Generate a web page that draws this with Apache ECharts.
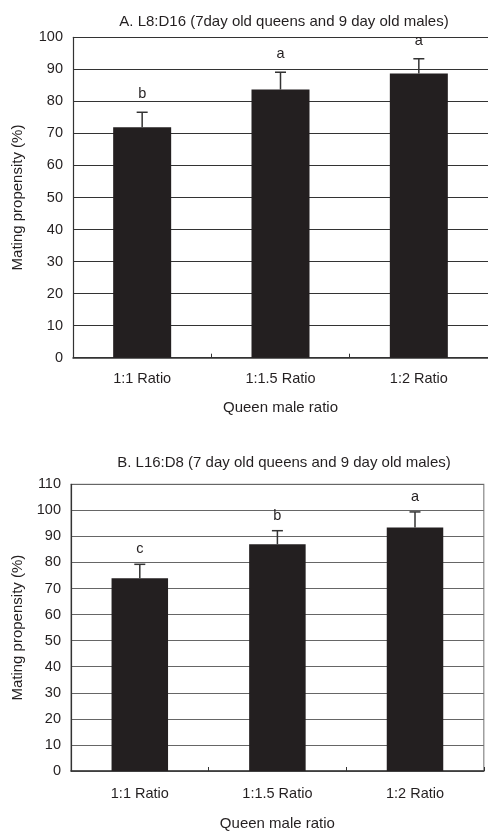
<!DOCTYPE html>
<html>
<head>
<meta charset="utf-8">
<script src="https://cdn.jsdelivr.net/npm/echarts@6/dist/echarts.min.js"></script>
<style>
html,body{margin:0;padding:0;background:#fff;}
#c{width:488px;height:832px;}
</style>
</head>
<body>
<div id="c"></div>
<script>
var categories = ['1:1 Ratio', '1:1.5 Ratio', '1:2 Ratio'];
var meansA = [71.9, 83.7, 88.7];
var errA = [4.7, 5.4, 4.6];
var lettersA = ['b', 'a', 'a'];
var meansB = [74.0, 87.0, 93.4];
var errB = [5.3, 5.2, 6.0];
var lettersB = ['c', 'b', 'a'];
var yTicksA = {min: 0, max: 100, interval: 10};
var yTicksB = {min: 0, max: 110, interval: 10};

var FONT = "'Liberation Sans', Arial, sans-serif";
var INK = '#231f20';
var FS = 14.5;

function errSeries(gridIdx, means, errs, letters, letterOff) {
  return {
    type: 'custom',
    xAxisIndex: gridIdx,
    yAxisIndex: gridIdx,
    z: 5,
    data: means.map(function (m, i) { return [i, m, m + errs[i]]; }),
    renderItem: function (params, api) {
      var x = api.value(0);
      var base = api.coord([x, api.value(1)]);
      var top = api.coord([x, api.value(2)]);
      var letter = letters[params.dataIndex];
      return {
        type: 'group',
        children: [
          {type: 'line', shape: {x1: base[0], y1: base[1], x2: top[0], y2: top[1]},
            style: {stroke: '#333', lineWidth: 1.5}},
          {type: 'line', shape: {x1: top[0] - 5.5, y1: top[1], x2: top[0] + 5.5, y2: top[1]},
            style: {stroke: '#333', lineWidth: 1.5}},
          {type: 'text', style: {text: letter, x: top[0], y: top[1] - letterOff,
            align: 'center', verticalAlign: 'middle', fontSize: FS, fontFamily: FONT, fill: INK}}
        ]
      };
    }
  };
}

function xAxisCfg(gridIdx, margin, nameGap) {
  return {
    type: 'category', gridIndex: gridIdx, data: categories,
    axisLine: {lineStyle: {color: '#333', width: 1.5}},
    axisTick: {show: true, inside: true, length: 4, lineStyle: {color: '#333'}},
    axisLabel: {fontSize: FS, fontFamily: FONT, color: INK, margin: margin},
    name: 'Queen male ratio', nameLocation: 'middle', nameGap: nameGap,
    nameTextStyle: {fontSize: 15, fontFamily: FONT, color: INK}
  };
}
function yAxisCfg(gridIdx, ticks, gridColor, nameGap) {
  return {
    type: 'value', gridIndex: gridIdx, min: ticks.min, max: ticks.max, interval: ticks.interval,
    axisLine: {show: true, lineStyle: {color: '#333', width: 1.2}},
    axisTick: {show: false},
    splitLine: {show: true, lineStyle: {color: gridColor, width: 1}},
    axisLabel: {fontSize: FS, fontFamily: FONT, color: INK, margin: 10},
    name: 'Mating propensity (%)', nameLocation: 'middle', nameGap: nameGap, nameRotate: 90,
    nameTextStyle: {fontSize: 15, fontFamily: FONT, color: INK}
  };
}

var chart = echarts.init(document.getElementById('c'), null, {renderer: 'canvas'});
chart.setOption({
  backgroundColor: '#fff',
  animation: false,
  title: [
    {text: 'A. L8:D16 (7day old queens and 9 day old males)', left: 279, top: 9.5, textAlign: 'center',
      textStyle: {fontSize: 15, fontWeight: 'normal', fontFamily: FONT, color: INK}},
    {text: 'B. L16:D8 (7 day old queens and 9 day old males)', left: 279, top: 450, textAlign: 'center',
      textStyle: {fontSize: 15, fontWeight: 'normal', fontFamily: FONT, color: INK}}
  ],
  grid: [
    {left: 73, right: -3, top: 37.3, bottom: 474.3},
    {left: 71, right: 4.2, top: 484.3, bottom: 58.7, show: true, borderColor: '#888', borderWidth: 1.2, backgroundColor: 'transparent'}
  ],
  xAxis: [xAxisCfg(0, 14, 43), xAxisCfg(1, 15.5, 45)],
  yAxis: [yAxisCfg(0, yTicksA, '#333', 47.5), yAxisCfg(1, yTicksB, '#666', 45.5)],
  series: [
    {type: 'bar', xAxisIndex: 0, yAxisIndex: 0, data: meansA, barWidth: 58, z: 3,
      itemStyle: {color: INK}},
    {type: 'bar', xAxisIndex: 1, yAxisIndex: 1, data: meansB, barWidth: 56.5, z: 3,
      itemStyle: {color: INK}},
    errSeries(0, meansA, errA, lettersA, 18),
    errSeries(1, meansB, errB, lettersB, 15)
  ]
});
</script>
</body>
</html>
